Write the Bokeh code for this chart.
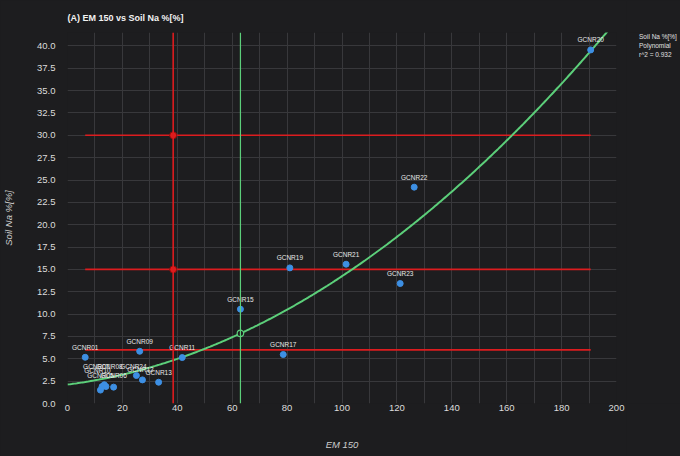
import numpy as np
from bokeh.plotting import figure
from bokeh.layouts import row
from bokeh.models import (ColumnDataSource, Span, Legend, LegendItem,
                          SingleIntervalTicker, FixedTicker, PrintfTickFormatter, Range1d)
from bokeh.core.properties import value
from bokeh.embed import file_html
from bokeh.resources import INLINE

# ---------------- data ----------------
sample_ids = ["GCNR01", "GCNR05", "GCNR10", "GCNR07", "GCNR08", "GCNR06",
              "GCNR09", "GCNR24", "GCNR12", "GCNR13", "GCNR11", "GCNR15",
              "GCNR17", "GCNR19", "GCNR21", "GCNR23", "GCNR22", "GCNR20"]
em150 = [6.45, 12.0, 12.6, 13.4, 14.0, 16.8,
         26.3, 25.1, 27.3, 33.2, 41.8, 63.0,
         78.6, 81.0, 101.5, 121.2, 126.3, 190.6]
soil_na = [5.17, 1.5, 1.9, 2.1, 1.9, 1.83,
           5.84, 3.13, 2.64, 2.38, 5.14, 10.55,
           5.48, 15.17, 15.58, 13.42, 24.2, 39.55]

# polynomial (degree 2) fit coefficients, highest power first
poly_coeffs = [0.000823, 0.0389, 2.12]
r_squared = 0.932

threshold_levels = [6.0, 15.0, 30.0]
marked_levels = [15.0, 30.0]
red_x = 38.5
green_x = 63.0

x_axis_max = 200
y_axis_max = 41.5
x_ticks_step = 20
x_grid_step = 10
y_ticks_step = 2.5

# label offsets (screen px) for each sample label
label_dx = [0, 0, -4.6, -8, 3.6, 0,
            0, -3, -2, 0, 0, 0,
            0, 0, 0, 0, 0, 0]
label_dy = [-10, -14.6, -16, -18, -20, -12,
            -10, -9, -10, -10, -10, -10,
            -10, -10, -10, -10, -10, -10]

# ---------------- styling ----------------
BG = "#1d1d1f"
GRID = "#38383b"
TEXT = "#dcdcdc"
RED = "#dc1c1f"
GREEN = "#5ccf7a"
BLUE = "#3d8fe3"
FONT = "Liberation Sans"

MAIN_W = 626
LEGEND_W = 680 - MAIN_W
H = 456

p = figure(width=MAIN_W, height=H,
           x_range=Range1d(0, x_axis_max), y_range=Range1d(0, y_axis_max),
           output_backend="svg", toolbar_location=None,
           min_border_left=67, min_border_right=10,
           min_border_top=32, min_border_bottom=53,
           background_fill_color=BG, border_fill_color=BG,
           outline_line_color=None)

p.title.text = "(A) EM 150 vs Soil Na %[%]"
p.title.text_font = FONT
p.title.text_font_size = "9px"
p.title.text_font_style = "bold"
p.title.text_color = "#f2f2f2"
p.title.standoff = 20

# axes
p.xaxis.ticker = FixedTicker(ticks=list(range(0, x_axis_max + 1, x_ticks_step)))
p.yaxis.ticker = SingleIntervalTicker(interval=y_ticks_step)
p.yaxis.formatter = PrintfTickFormatter(format="%.1f")
p.xgrid.ticker = FixedTicker(ticks=list(range(0, x_axis_max + 1, x_grid_step)))
p.ygrid.ticker = SingleIntervalTicker(interval=y_ticks_step)
p.xgrid.grid_line_color = GRID
p.ygrid.grid_line_color = GRID
p.xgrid.grid_line_width = 1
p.ygrid.grid_line_width = 1

for ax in (p.xaxis, p.yaxis):
    ax.axis_line_color = None
    ax.major_tick_line_color = None
    ax.minor_tick_line_color = None
    ax.major_tick_out = 0
    ax.major_tick_in = 0
    ax.major_label_text_color = TEXT
    ax.major_label_text_font = FONT
    ax.major_label_text_font_size = "9.5px"
    ax.axis_label_text_font = FONT
    ax.axis_label_text_font_size = "9.5px"
    ax.axis_label_text_font_style = "italic"
    ax.axis_label_text_color = "#cfcfcf"
p.xaxis.axis_label = "EM 150"
p.yaxis.axis_label = "Soil Na %[%]"
p.xaxis.major_label_standoff = 1
p.xaxis.axis_label_standoff = 25
p.yaxis.major_label_standoff = 8
p.yaxis.axis_label_standoff = 20

# reference lines
p.add_layout(Span(location=red_x, dimension="height", line_color=RED, line_width=1.6))
p.add_layout(Span(location=green_x, dimension="height", line_color=GREEN, line_width=1.2))
xmin, xmax = min(em150), max(em150)
p.segment(x0=[xmin] * len(threshold_levels), x1=[xmax] * len(threshold_levels),
          y0=threshold_levels, y1=threshold_levels, line_color=RED, line_width=1.6)

# polynomial curve
xs = np.linspace(0, x_axis_max, 401)
ys = np.polyval(poly_coeffs, xs)
p.line(xs, ys, line_color=GREEN, line_width=2)

# markers at intersections
p.scatter(x=[red_x] * len(marked_levels), y=marked_levels, size=7,
          fill_color="#e01b1b", line_color="#8a0c0c", line_width=1)
p.scatter(x=[green_x], y=[np.polyval(poly_coeffs, green_x)], size=6.5,
          fill_color=BG, line_color=GREEN, line_width=1.2)

# points
src = ColumnDataSource(dict(x=em150, y=soil_na, name=sample_ids,
                            dx=label_dx, dy=label_dy))
p.scatter("x", "y", source=src, size=6, fill_color=BLUE, line_color=BLUE)
p.text("x", "y", text="name", source=src, x_offset="dx", y_offset="dy",
       text_font=value(FONT), text_font_size="6.5px", text_color="#e8e8e8",
       text_align="center", text_baseline="middle")

# ---------------- legend panel (separate figure to the right) ----------------
q = figure(width=LEGEND_W, height=H, x_range=Range1d(0, 1), y_range=Range1d(0, 1),
           output_backend="svg", toolbar_location=None,
           x_axis_location=None, y_axis_location=None,
           min_border_left=0, min_border_right=0, min_border_top=31, min_border_bottom=0,
           background_fill_color=BG, border_fill_color=BG, outline_line_color=None)
q.grid.visible = False
leg_pts = q.scatter(x=[], y=[], size=6, fill_color=BLUE, line_color=BLUE)
leg_curve = q.line(x=[], y=[], line_color=GREEN, line_width=2)
leg_ghost = q.line(x=[], y=[], line_alpha=0)

legend = Legend(items=[LegendItem(label="Soil Na %[%]", renderers=[leg_pts]),
                       LegendItem(label="Polynomial", renderers=[leg_curve]),
                       LegendItem(label="r^2 = %.3f" % r_squared, renderers=[leg_ghost])],
                location="top_left", padding=0, margin=0, spacing=0,
                glyph_width=11, glyph_height=9, label_height=9,
                label_standoff=2, label_text_font=FONT,
                label_text_font_size="6.5px", label_text_color="#e0e0e0",
                background_fill_alpha=0, border_line_color=None)
q.add_layout(legend)

layout = row(p, q, spacing=0)

html = file_html(layout, INLINE)
html = html.replace("<head>", "<head><style>html,body{background:#1d1d1f;}</style>", 1)
open("out.html", "w").write(html)
